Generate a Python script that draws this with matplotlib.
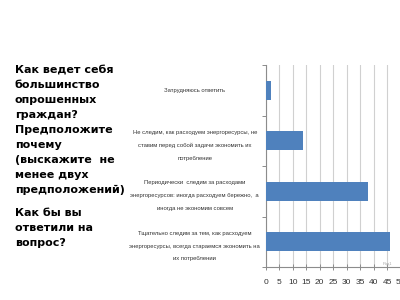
import matplotlib
matplotlib.use("Agg")
import matplotlib.pyplot as plt

# categories bottom -> top (as barh draws them)
categories = [
    "Тщательно следим за тем, как расходуем\nэнергоресурсы, всегда стараемся экономить на\nих потреблении",
    "Периодически  следим за расходами\nэнергоресурсов: иногда расходуем бережно,  а\nиногда не экономим совсем",
    "Не следим, как расходуем энергоресурсы, не\nставим перед собой задачи экономить их\nпотребление",
    "Затрудняюсь ответить",
]
values = [46, 38, 14, 2]
xticks = list(range(0, 55, 5))

question_1 = ("Как ведет себя\nбольшинство\nопрошенных\nграждан?\nПредположите\n"
              "почему\n(выскажите  не\nменее двух\nпредположений)")
question_2 = "Как бы вы\nответили на\nвопрос?"
series_name = "Ряд1"

SMALL = ["Liberation Sans", "DejaVu Sans"]
BLUE = "#4F81BD"
GRID = "#D0D0D0"
AXIS = "#8C8C8C"
TXT = "#333333"

fig = plt.figure(figsize=(4, 3), dpi=100)
fig.patch.set_facecolor("white")

ax = fig.add_axes([0.664, 0.11, 0.338, 0.673])
pos = list(range(len(categories)))
ax.barh(pos, values, height=0.38, color=BLUE, zorder=3)

ax.set_xlim(0, 50)
ax.set_ylim(-0.5, len(categories) - 0.5)
ax.set_xticks(xticks)
ax.set_xticklabels([str(t) for t in xticks], fontsize=6, color=TXT,
                   family=SMALL)
ax.xaxis.grid(True, color=GRID, lw=0.8, zorder=0)
ax.tick_params(axis="x", direction="inout", length=5, color=AXIS, width=0.7, pad=6.5)

ax.set_yticks(pos)
ax.set_yticklabels(categories, fontsize=4.2, color=TXT, family=SMALL,
                   ha="center", linespacing=2.95)
ax.tick_params(axis="y", which="major", length=0, pad=51)
ax.set_yticks([p - 0.5 for p in range(len(categories) + 1)], minor=True)
ax.tick_params(axis="y", which="minor", length=3, color=AXIS, width=0.7)

for side in ("top", "right"):
    ax.spines[side].set_visible(False)
for side in ("left", "bottom"):
    ax.spines[side].set_color(AXIS)
    ax.spines[side].set_linewidth(0.8)

fig.text(0.957, 0.115, series_name, fontsize=3, color="#A8A8A8", family=SMALL)

fig.text(0.037, 0.783, question_1, fontsize=8, fontweight="bold", color="black",
         va="top", linespacing=1.62)
fig.text(0.037, 0.305, question_2, fontsize=8, fontweight="bold", color="black",
         va="top", linespacing=1.62)

fig.savefig("out.png", dpi=100)
